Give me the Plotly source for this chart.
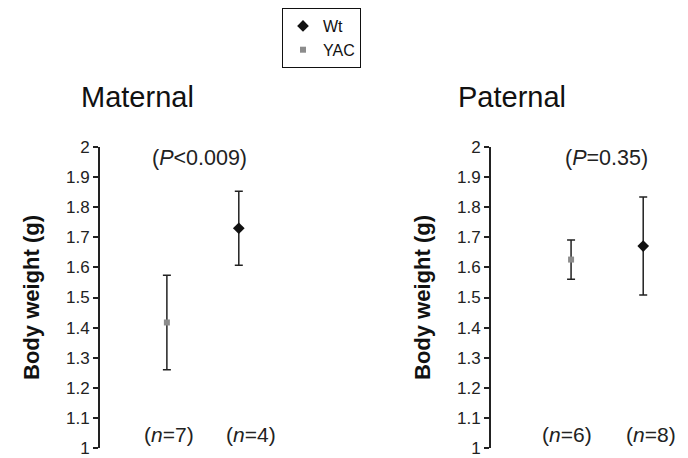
import plotly.graph_objects as go

# ---- data ----
panels = ["Maternal", "Paternal"]
groups = ["YAC", "Wt"]
group_pos = [1, 2]

maternal_mean = [1.417, 1.730]
maternal_err = [0.157, 0.123]
maternal_n = ["7", "4"]
maternal_p = "(<i>P</i>&lt;0.009)"

paternal_mean = [1.626, 1.671]
paternal_err = [0.065, 0.163]
paternal_n = ["6", "8"]
paternal_p = "(<i>P</i>=0.35)"

y_ticks = [1, 1.1, 1.2, 1.3, 1.4, 1.5, 1.6, 1.7, 1.8, 1.9, 2]
y_ticklabels = ["1", "1.1", "1.2", "1.3", "1.4", "1.5", "1.6", "1.7", "1.8", "1.9", "2"]

# The page body has an 8px margin, so the figure is 8px smaller than the window
OFF = 8
W, H = 688 - OFF, 458 - OFF
FONT = "Arial, Liberation Sans, sans-serif"


def px(x):
    return (x - OFF) / W


def py(y):
    return 1 - (y - OFF) / H


styles = {
    "Wt": dict(symbol="diamond", size=9, color="#111111"),
    "YAC": dict(symbol="square", size=6, color="#8c8c8c"),
}

fig = go.Figure()


def add_panel(means, errs, xa, ya, showlegend):
    # legend order: Wt then YAC
    for g in ["Wt", "YAC"]:
        i = groups.index(g)
        st = styles[g]
        fig.add_trace(go.Scatter(
            x=[group_pos[i]], y=[means[i]],
            mode="markers", name=g, showlegend=showlegend,
            legendgroup=g, legendrank=1 if g == "Wt" else 2,
            marker=dict(symbol=st["symbol"], size=st["size"], color=st["color"]),
            error_y=dict(type="data", array=[errs[i]], visible=True,
                         color="#222222", thickness=1.5, width=4),
            xaxis=xa, yaxis=ya,
        ))


add_panel(maternal_mean, maternal_err, "x", "y", True)
add_panel(paternal_mean, paternal_err, "x2", "y2", False)

ydom = [py(448), py(147)]
common_y = dict(
    range=[1, 2], tickmode="array", tickvals=y_ticks, ticktext=y_ticklabels,
    showline=True, linecolor="#222222", linewidth=2,
    ticks="outside", ticklen=5, tickwidth=1.5, tickcolor="#222222",
    showgrid=False, zeroline=False, automargin=False,
    tickfont=dict(family=FONT, size=17, color="#222222"),
    title=dict(text="<b>Body weight (g)</b>", standoff=20,
               font=dict(family=FONT, size=22, color="#111111")),
    domain=ydom,
)
common_x = dict(visible=False, showgrid=False, zeroline=False, automargin=False)

fig.update_layout(
    template="none",
    width=W, height=H,
    margin=dict(l=0, r=0, t=0, b=0, autoexpand=False),
    paper_bgcolor="white", plot_bgcolor="white",
    font=dict(family=FONT, color="#111111"),
    xaxis=dict(common_x, domain=[px(100), px(310)], range=[0.07, 2.99]),
    yaxis=dict(common_y, anchor="x"),
    xaxis2=dict(common_x, domain=[px(491), px(680)], range=[-0.11, 2.51]),
    yaxis2=dict(common_y, anchor="x2"),
    legend=dict(x=px(282), y=py(8), xanchor="left", yanchor="top",
                bordercolor="#111111", borderwidth=1, bgcolor="white",
                font=dict(family=FONT, size=16, color="#111111"),
                itemwidth=30, traceorder="grouped", tracegroupgap=0),
    showlegend=True,
)

ann = []
# panel titles
ann.append(dict(text=panels[0], x=px(137), y=py(97), xref="paper", yref="paper",
                xanchor="center", yanchor="middle",
                showarrow=False, font=dict(family=FONT, size=29, color="#111111")))
ann.append(dict(text=panels[1], x=px(512), y=py(97), xref="paper", yref="paper",
                xanchor="center", yanchor="middle",
                showarrow=False, font=dict(family=FONT, size=29, color="#111111")))
# P values
ann.append(dict(text=maternal_p, x=1.46, y=1.965, xref="x", yref="y",
                showarrow=False, font=dict(family=FONT, size=21.5, color="#222222")))
ann.append(dict(text=paternal_p, x=1.49, y=1.965, xref="x2", yref="y2",
                showarrow=False, font=dict(family=FONT, size=21.5, color="#222222")))
# n labels
for xv, nv in zip([1.03, 2.17], maternal_n):
    ann.append(dict(text=f"(<i>n</i>={nv})", x=xv, y=1.045, xref="x", yref="y",
                    showarrow=False, font=dict(family=FONT, size=21, color="#222222")))
for xv, nv in zip([0.94, 2.11], paternal_n):
    ann.append(dict(text=f"(<i>n</i>={nv})", x=xv, y=1.045, xref="x2", yref="y2",
                    showarrow=False, font=dict(family=FONT, size=21, color="#222222")))
fig.update_layout(annotations=ann)

fig.write_html("out.html")
